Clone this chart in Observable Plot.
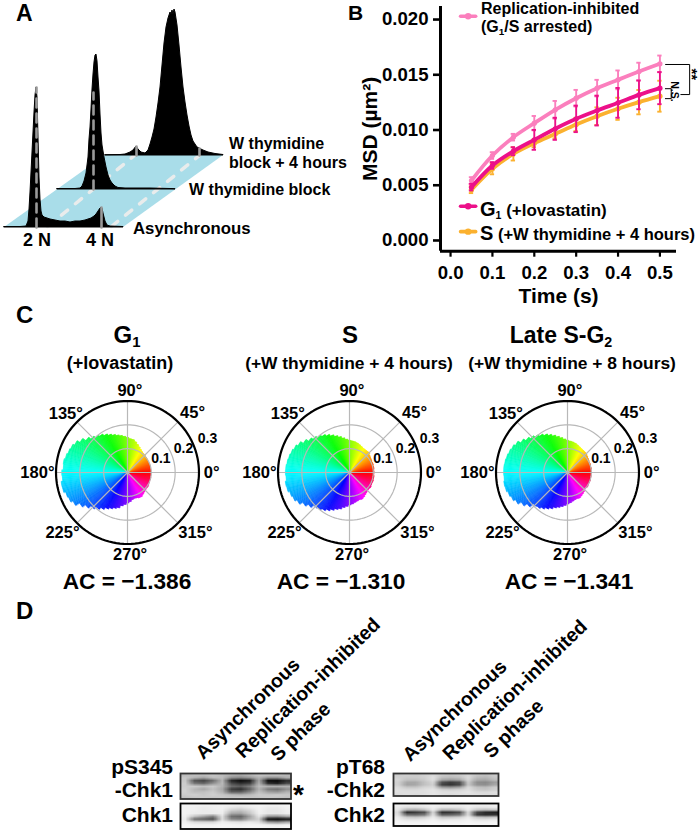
<!DOCTYPE html>
<html><head><meta charset="utf-8">
<script src="https://cdn.jsdelivr.net/npm/d3@7"></script>
<script src="https://cdn.jsdelivr.net/npm/@observablehq/plot@0.6"></script>
<style>
html,body{margin:0;padding:0;background:#fff}
#page{position:relative;width:700px;height:831px;overflow:hidden;font-family:"Liberation Sans",Arial,sans-serif;font-weight:bold;color:#000}
#page svg{position:absolute;overflow:visible}
.t{position:absolute;white-space:nowrap;line-height:1}
.t sub{font-size:.62em;vertical-align:-.28em;line-height:0}
.t sup{font-size:.62em;vertical-align:.4em;line-height:0}
</style></head><body><div id="page"></div>
<script>
// ---------- Panel A: DNA content histograms ----------
const asyncX=[4,20,26,28,29,30,31,32,33,34,35,36,37,38,39,40,41,42,44,47,50,55,60,65,70,75,80,85,88,91,94,96,98,100,101,102,103,105,107,110,123];
const asyncH=[.5,.5,1,6,18,35,55,75,95,115,132,140,130,90,50,28,16,12,10,9,8,7,6,6,5,6,6,7,8,9,11,13,16,19,20,19,14,6,2,1,.5];
const blockX=[57,75,80,82,84,86,88,89,90,91,92,93,94,95,96,97,98,99,100,101,102,104,106,108,110,112,115,118,125,150,170,175];
const blockH=[.5,.5,1,3,8,16,32,50,62,80,100,115,127,134,135,128,112,98,75,56,44,32,22,14,9,6,3,1.5,1,1,.5,.3];
const releaseX=[105,120,125,130,133,136,138,141,145,148,150,152,154,156,158,160,162,164,166,168,170,171,172,173,174,175,177,179,181,183,185,187,189,191,193,195,197,199,203,208,215,223];
const releaseH=[.3,.5,1,3,5,9,6,3,2,5,11,18,26,38,52,68,90,112,128,137,143,141,145,141,146,143,130,110,88,68,53,40,29,20,14,11,8,7,5,3,1.5,.5];
const planeY=[23,95], planeLeft=[4,105], planeRight=[123,223];
const dashA=[[47,24],[134,95]], dashB=[[111,24],[199,95]];
const peakMarks=[{x:36,y1:23,y2:163},{x:101,y1:23,y2:43},{x:93,y1:61,y2:158},{x:136,y1:95,y2:104},{x:199,y1:95,y2:102}];

// ---------- Panel B: MSD ----------
const times=[.05,.1,.15,.2,.25,.3,.35,.4,.45,.5];
const msdArrested=[.00543,.00769,.00935,.01062,.01183,.01288,.01379,.01454,.01529,.01599];
const errArrested=[.0003,.0003,.0003,.00065,.0008,.00075,.00075,.00085,.0008,.00075];
const msdG1=[.00483,.00679,.00808,.00911,.01011,.01101,.01176,.01246,.01318,.01379];
const errG1=[.0003,.0003,.00036,.0009,.001,.0012,.00135,.00135,.0013,.00145];
const msdS=[.00459,.00649,.00784,.00881,.00965,.0105,.01125,.01192,.01252,.01306];
const errS=[.0003,.0005,.0006,.00036,.0004,.0006,.0008,.001,.0011,.0014];
const colArrested="#fb7fbd",colG1="#ec1089",colS="#fbb12f";
const xTicks=[0,.1,.2,.3,.4,.5], yTicks=[0,.005,.01,.015,.02];
const bracketOuter=[[.5135,.01593],[.571,.01593],[.571,.01321],[.55,.01321]];
const bracketNS=[[.513,.01374],[.527,.01374],[.527,.01284],[.513,.01284]];

// ---------- Panel C: polar, radius every 5 degrees from 0 ----------
const radiiG1=[.097,.098,.097,.098,.099,.097,.098,.100,.101,.103,.104,.107,.112,.118,.125,.133,.140,.142,.147,
.152,.157,.162,.168,.175,.183,.192,.199,.208,.220,.236,.250,.258,.262,.267,.272,.270,.276,.274,.281,.280,.272,.268,.258,.238,.222,.207,.195,.184,.173,.165,.158,.152,.141,.134,.128,.122,.115,.112,.113,.116,.117,.112,.108,.105,.103,.104,.102,.100,.099,.100,.098,.098];
const radiiS=[.103,.102,.104,.103,.105,.104,.106,.108,.111,.117,.116,.116,.117,.120,.124,.128,.131,.133,.135,
.140,.147,.155,.163,.172,.181,.190,.198,.207,.216,.229,.243,.252,.258,.262,.265,.268,.269,.267,.272,.270,.263,.258,.248,.232,.218,.203,.198,.190,.181,.172,.163,.157,.148,.142,.136,.132,.127,.124,.121,.123,.119,.114,.110,.107,.106,.108,.105,.104,.105,.103,.104,.102];
const radiiLate=[.100,.099,.101,.100,.102,.101,.103,.105,.108,.112,.113,.114,.116,.119,.123,.127,.130,.132,.135,
.141,.148,.156,.165,.174,.183,.192,.201,.210,.220,.232,.246,.254,.259,.263,.266,.268,.268,.267,.270,.268,.262,.256,.246,.230,.214,.194,.190,.182,.173,.165,.156,.150,.144,.138,.132,.127,.122,.118,.116,.118,.114,.110,.106,.101,.101,.103,.101,.100,.101,.099,.100,.099];
const spokes=[0,45,90,135,180,225,270,315];
const rings=[.1,.2];
const outerRing=.3;
const degreeLabels=["0°","45°","90°","135°","180°","225°","270°","315°"];
const degreeX=[.353,.273,.01,-.259,-.378,-.273,.011,.285];
const degreeY=[0,.252,.343,.248,-.003,-.252,-.344,-.252];
const radialLabels=["0.1","0.2","0.3"];
const radialX=[.14,.235,.336];
const radialY=[.06,.102,.143];

// ---------- Panel D: blot densities (darkness, 12 columns x 9 rows) ----------
const blotPS345=[
.27,.24,.24,.22,.26,.30,.32,.27,.22,.22,.22,.27,
.22,.30,.36,.26,.26,.44,.48,.42,.30,.44,.44,.32,
.22,.68,.74,.58,.30,.86,.96,.90,.34,.96,.97,.84,
.20,.52,.58,.42,.28,.70,.80,.74,.30,.80,.86,.70,
.20,.20,.24,.20,.30,.56,.62,.50,.25,.30,.30,.30,
.18,.28,.34,.24,.34,.76,.82,.62,.30,.52,.56,.44,
.18,.25,.24,.20,.30,.62,.62,.46,.24,.36,.40,.30,
.20,.18,.22,.18,.22,.26,.30,.26,.20,.22,.20,.22,
.24,.22,.20,.22,.20,.22,.20,.22,.22,.20,.22,.24];
const blotChk1=[
.05,.05,.05,.06,.05,.05,.06,.05,.04,.05,.05,.04,
.05,.06,.08,.06,.05,.10,.12,.08,.05,.08,.08,.05,
.05,.06,.08,.07,.06,.20,.24,.16,.05,.10,.10,.06,
.05,.07,.08,.08,.07,.34,.36,.22,.06,.10,.10,.07,
.06,.22,.34,.48,.12,.56,.60,.36,.10,.40,.42,.32,
.08,.56,.62,.70,.14,.46,.50,.30,.18,.95,.98,.92,
.06,.14,.16,.16,.06,.10,.12,.08,.12,.40,.46,.36,
.04,.05,.05,.05,.04,.04,.05,.04,.04,.06,.07,.05,
.03,.04,.04,.04,.03,.04,.04,.03,.03,.04,.04,.03];
const blotPT68=[
.20,.18,.20,.18,.15,.20,.22,.20,.16,.22,.24,.20,
.18,.20,.20,.18,.12,.24,.26,.24,.14,.26,.28,.22,
.16,.24,.24,.20,.12,.34,.38,.34,.16,.32,.34,.26,
.18,.34,.34,.24,.16,.68,.76,.70,.20,.44,.46,.38,
.18,.36,.34,.24,.18,.74,.80,.72,.22,.42,.44,.34,
.14,.22,.22,.16,.14,.38,.42,.36,.14,.24,.26,.20,
.12,.14,.14,.12,.10,.16,.18,.16,.12,.20,.22,.18,
.12,.12,.12,.12,.10,.12,.12,.12,.10,.14,.14,.12,
.14,.12,.14,.12,.10,.12,.14,.12,.12,.12,.14,.14];
const blotChk2=[
.06,.06,.07,.06,.05,.06,.06,.06,.05,.06,.06,.05,
.08,.12,.12,.10,.06,.10,.10,.10,.06,.10,.10,.08,
.10,.30,.32,.24,.08,.28,.28,.22,.08,.22,.26,.22,
.14,.84,.78,.70,.16,.82,.80,.72,.14,.72,.84,.88,
.12,.56,.58,.52,.12,.62,.60,.54,.14,.76,.82,.80,
.08,.20,.22,.18,.08,.22,.22,.18,.08,.22,.26,.22,
.06,.10,.10,.08,.05,.10,.08,.08,.05,.10,.10,.08,
.04,.05,.05,.05,.04,.05,.05,.05,.04,.05,.05,.04,
.04,.04,.04,.04,.03,.04,.04,.04,.03,.04,.04,.04];
const laneLabels=["Asynchronous","Replication-inhibited","S phase"];

// ---------- helpers ----------
const page=document.getElementById("page");
function put(svg,left,top){svg.style.left=left+"px";svg.style.top=top+"px";page.appendChild(svg);}
function label(html,x,base,size,opt={}){
  const d=document.createElement("div");d.className="t";d.innerHTML=html;
  d.style.fontSize=size+"px";d.style.left=x+"px";d.style.top=(base-.8465*size)+"px";
  let tf="";if(opt.anchor==="middle")tf="translateX(-50%) ";if(opt.anchor==="end")tf="translateX(-100%) ";
  if(opt.rotate){tf+="rotate("+opt.rotate+"deg)";d.style.transformOrigin="0 50%";}
  d.style.transform=tf;if(opt.weight)d.style.fontWeight=opt.weight;page.appendChild(d);
}
const font="'Liberation Sans',Arial,sans-serif";

// ---------- Panel A ----------
function hist(xs,hs,base){return xs.map((x,i)=>({x,y1:base,y2:base+hs[i]}));}
const plane=planeY.map((y,i)=>({y,x1:planeLeft[i],x2:planeRight[i]}));
const dashed=(seg)=>Plot.line(seg,{x:d=>d[0],y:d=>d[1],stroke:"#e9ecec",strokeWidth:3.5,strokeDasharray:"8,10"});
const peakDash=(d,c)=>Plot.line([[d.x,d.y1],[d.x,d.y2]],{x:p=>p[0],y:p=>p[1],stroke:"#9a9a9a",strokeWidth:2.6,strokeDasharray:c});
put(Plot.plot({width:340,height:250,margin:0,axis:null,
  x:{domain:[0,340],range:[0,340]},y:{domain:[0,250],range:[250,0]},
  marks:[
    Plot.areaX(plane,{y:"y",x1:"x1",x2:"x2",fill:"#a9dde9"}),
    dashed(dashA),dashed(dashB),
    Plot.areaY(hist(releaseX,releaseH,95),{x:"x",y1:"y1",y2:"y2",fill:"#000",stroke:"#000",strokeWidth:1}),
    peakDash(peakMarks[3],"none"),peakDash(peakMarks[4],"none"),
    Plot.areaY(hist(blockX,blockH,61),{x:"x",y1:"y1",y2:"y2",fill:"#000",stroke:"#000",strokeWidth:1}),
    peakDash(peakMarks[2],"9,6"),
    Plot.areaY(hist(asyncX,asyncH,23),{x:"x",y1:"y1",y2:"y2",fill:"#000",stroke:"#000",strokeWidth:1}),
    peakDash(peakMarks[0],"9,6"),peakDash(peakMarks[1],"none")
  ]}),0,0);
label("A",16,21,23);
label("2 N",37,246,18,{anchor:"middle"});
label("4 N",100,246,18,{anchor:"middle"});
label("W thymidine",229,150,16);
label("block + 4 hours",229,169,16);
label("W thymidine block",189,196,16);
label("Asynchronous",133,235,16.8);

// ---------- Panel B ----------
function rows(v,e){return times.map((t,i)=>({t,v:v[i],lo:v[i]-e[i],hi:v[i]+e[i]}));}
function series(v,e,col){
  const r=rows(v,e),w=.0052;
  return [
    Plot.ruleX(r,{x:"t",y1:"lo",y2:"hi",stroke:col,strokeWidth:1.9}),
    Plot.ruleY(r,{y:"lo",x1:d=>d.t-w,x2:d=>d.t+w,stroke:col,strokeWidth:1.9}),
    Plot.ruleY(r,{y:"hi",x1:d=>d.t-w,x2:d=>d.t+w,stroke:col,strokeWidth:1.9}),
    Plot.line(r,{x:"t",y:"v",stroke:col,strokeWidth:3.8,curve:"catmull-rom"}),
    Plot.dot(r,{x:"t",y:"v",fill:col,r:2.6})
  ];
}
function swatch(y,col){
  const s=[[.024,y],[.06,y]];
  return [Plot.line(s,{x:d=>d[0],y:d=>d[1],stroke:col,strokeWidth:3.6}),
          Plot.dot([[.042,y]],{x:d=>d[0],y:d=>d[1],fill:col,r:3.2})];
}
put(Plot.plot({width:360,height:310,marginLeft:100,marginRight:24,marginTop:6,marginBottom:59.3,
  style:{fontFamily:font,fontWeight:"bold",background:"transparent"},
  x:{domain:[-.024,.5396]},y:{domain:[-.00097,.02118]},
  marks:[
    Plot.axisY({ticks:yTicks,tickFormat:".3f",tickSize:7,tickPadding:5,fontSize:18.6,strokeWidth:2.6,label:null}),
    Plot.axisX({ticks:xTicks,tickFormat:".1f",tickSize:6,tickPadding:9,fontSize:18.6,strokeWidth:2.2,label:null}),
    Plot.axisY({ticks:[],label:"MSD (µm²)",labelAnchor:"center",labelArrow:"none",labelOffset:78,fontSize:21}),
    Plot.axisX({ticks:[],label:"Time (s)",labelAnchor:"center",labelArrow:"none",labelOffset:52,fontSize:21}),
    Plot.ruleX([-.024],{stroke:"#000",strokeWidth:3}),
    Plot.ruleY([-.00097],{stroke:"#000",strokeWidth:3}),
    ...series(msdS,errS,colS),
    ...series(msdArrested,errArrested,colArrested),
    ...series(msdG1,errG1,colG1),
    ...swatch(.0203,colArrested),...swatch(.0031,colG1),...swatch(.0008,colS),
    Plot.line(bracketOuter,{x:d=>d[0],y:d=>d[1],stroke:"#000",strokeWidth:1}),
    Plot.line(bracketNS,{x:d=>d[0],y:d=>d[1],stroke:"#000",strokeWidth:1})
  ]}),340,0);
label("B",348,20,21);
label("Replication-inhibited",481,14.5,16);
label("(G<sub>1</sub>/S arrested)",481,33,16);
label('<span style="font-size:20px">G</span><sub>1</sub> (+lovastatin)',480,213,17);
label('<span style="font-size:20px">S</span> (+W thymidine + 4 hours)',480,237,16.5);
label("N.S.",675,85,10.5,{rotate:90});
label("**",692,74,15,{rotate:90});

// ---------- Panel C ----------
function polar(radii,cx,cy){
  const wedges=[];
  radii.forEach((r,i)=>{
    for(let k=0;k<5;k++){
      const a0=(i*5+k-2.5),a1=a0+1.02,id=i*5+k;
      const c=d3.hsl((a0+.5+360)%360,1,.5).formatHex();
      [[0,0],[r*Math.cos(a0*Math.PI/180),r*Math.sin(a0*Math.PI/180)],[r*Math.cos(a1*Math.PI/180),r*Math.sin(a1*Math.PI/180)]]
        .forEach(p=>wedges.push({id,c,x:p[0],y:p[1]}));
    }
  });
  const circle=r=>d3.range(0,361,3).map(a=>[r*Math.cos(a*Math.PI/180),r*Math.sin(a*Math.PI/180)]);
  const spokeRows=spokes.map(a=>({x:outerRing*Math.cos(a*Math.PI/180),y:outerRing*Math.sin(a*Math.PI/180)}));
  const u=120/238.3,v=110/238.3;
  const deg=degreeLabels.map((t,i)=>({t,x:degreeX[i],y:degreeY[i]}));
  const rad=radialLabels.map((t,i)=>({t,x:radialX[i],y:radialY[i]}));
  put(Plot.plot({width:240,height:220,margin:0,axis:null,
    style:{fontFamily:font,fontWeight:"bold",background:"transparent"},
    color:{type:"identity"},
    x:{domain:[-u,u],range:[0,240]},y:{domain:[-v,v],range:[220,0]},
    marks:[
      Plot.line(wedges,{x:"x",y:"y",z:"id",fill:"c",stroke:"c",strokeWidth:.4,curve:"linear-closed"}),
      Plot.link(spokeRows,{x1:0,y1:0,x2:"x",y2:"y",stroke:"#b8b8b8",strokeWidth:1.2}),
      ...rings.map(r=>Plot.line(circle(r),{x:d=>d[0],y:d=>d[1],stroke:"#b8b8b8",strokeWidth:1.2})),
      Plot.line(circle(outerRing),{x:d=>d[0],y:d=>d[1],stroke:"#000",strokeWidth:2.2}),
      Plot.text(deg,{x:"x",y:"y",text:"t",fontSize:16.5,fill:"#000"}),
      Plot.text(rad,{x:"x",y:"y",text:"t",fontSize:14,fill:"#000"})
    ]}),cx-120,cy-110);
}
polar(radiiG1,126.7,471.5);
polar(radiiS,348.7,471.5);
polar(radiiLate,567,471.5);
label("C",16,323,24);
label('G<sub>1</sub>',127,343,24,{anchor:"middle"});
label("(+lovastatin)",120,369,18,{anchor:"middle"});
label("S",350,343,24,{anchor:"middle"});
label("(+W thymidine + 4 hours)",349,370,17.4,{anchor:"middle"});
label('Late S-G<sub>2</sub>',561,343,23,{anchor:"middle"});
label("(+W thymidine + 8 hours)",572,370,17.4,{anchor:"middle"});
label("AC = −1.386",127,589,22.7,{anchor:"middle"});
label("AC = −1.310",341,589,22.7,{anchor:"middle"});
label("AC = −1.341",569,589,22.7,{anchor:"middle"});

// ---------- Panel D ----------
function blot(values,left,top,w,h,frameColor){
  put(Plot.plot({width:w,height:h,margin:0,axis:null,
    style:{background:"transparent"},
    x:{domain:[0,12],range:[0,w]},y:{domain:[0,9],range:[0,h]},
    color:{type:"linear",domain:[0,1],range:["#ffffff","#000000"]},
    marks:[
      Plot.raster(values,{width:12,height:9,x1:0,x2:12,y1:0,y2:9,imageRendering:"auto"}),
      Plot.frame({stroke:frameColor,strokeWidth:1.8})
    ]}),left,top);
}
blot(blotPS345,179.5,773,110.5,25.5,"#333");
blot(blotChk1,179.5,802.5,110.5,25.5,"#000");
blot(blotPT68,393,773,105,22.5,"#333");
blot(blotChk2,393,802.5,105,22.5,"#000");
label("D",16,619,24);
const laneStart=[[199,762],[239,761],[274,764]];
const laneStart2=[[406,764],[446,763],[487,761]];
laneLabels.forEach((t,i)=>{
  label(t,laneStart[i][0],laneStart[i][1],19.4,{rotate:-44});
  label(t,laneStart2[i][0],laneStart2[i][1],19.4,{rotate:-44});
});
label("pS345",173,774,21,{anchor:"end"});
label("-Chk1",173,797,21,{anchor:"end"});
label("Chk1",173,822,21,{anchor:"end"});
label("pT68",385,774,21,{anchor:"end"});
label("-Chk2",385,797,21,{anchor:"end"});
label("Chk2",385,822,21,{anchor:"end"});
label("*",293,805,28);
</script></body></html>
